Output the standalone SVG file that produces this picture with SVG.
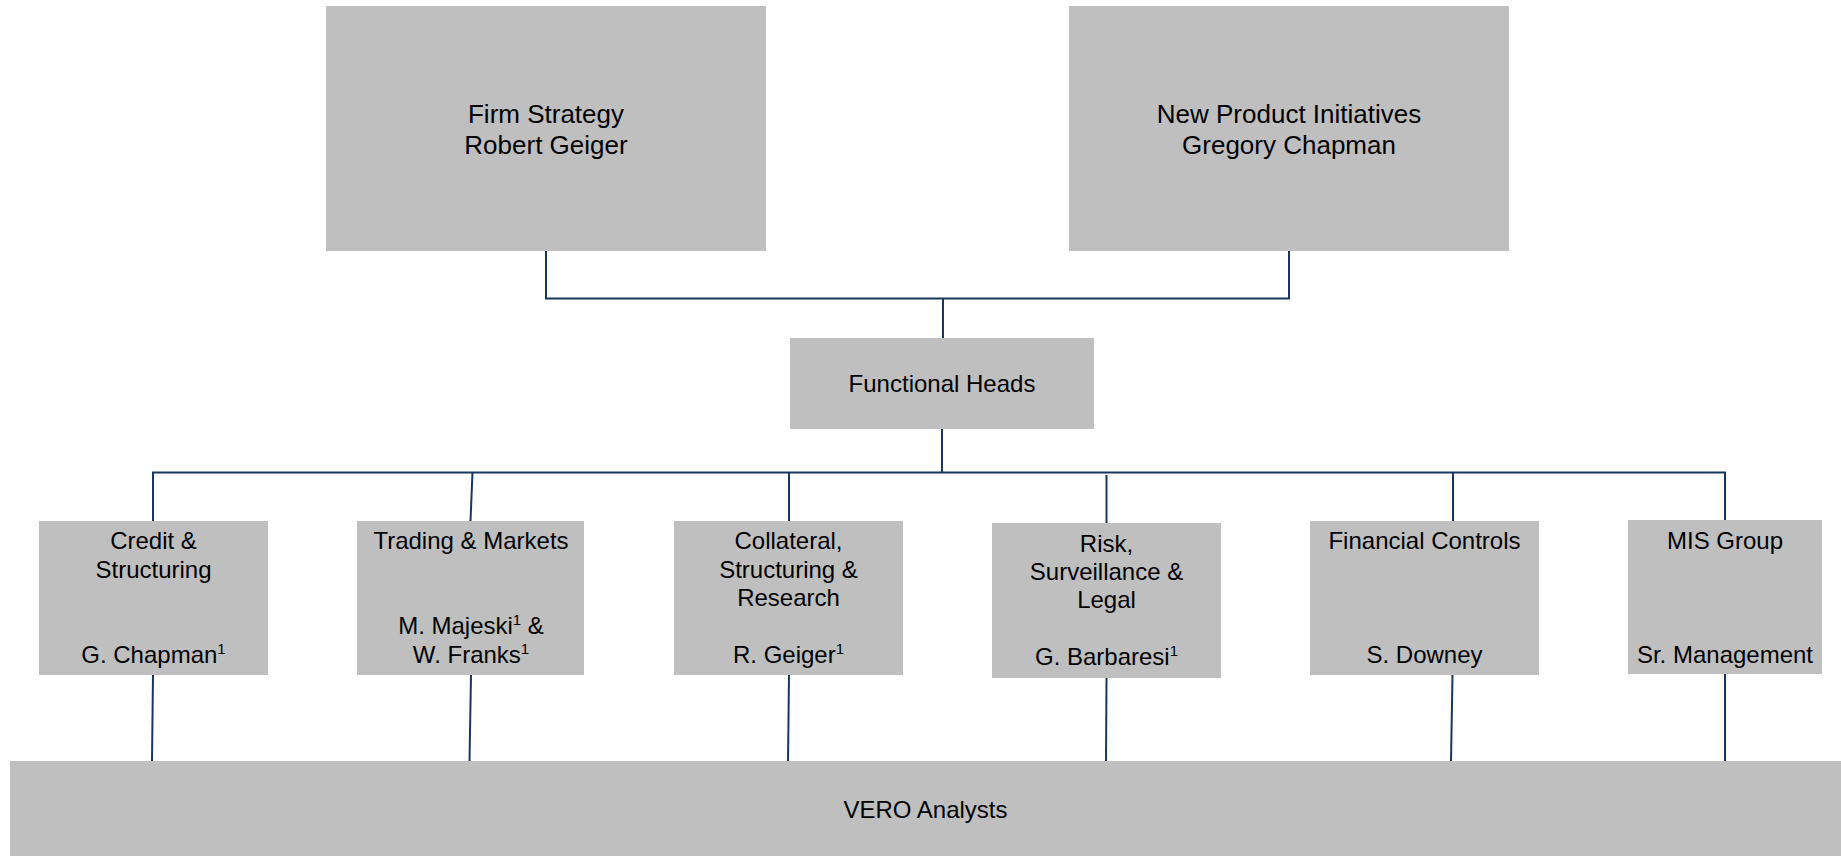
<svg xmlns="http://www.w3.org/2000/svg" width="1841" height="856" viewBox="0 0 1841 856">
  <style>
    .box { fill: #BFBFBF; }
    .lbl { font-family: "Liberation Sans", Arial, sans-serif; font-size: 24px; fill: #000; text-anchor: middle; }
    .big { font-size: 26px; }
    .sup { font-size: 15px; }
    .wire { fill: none; stroke: #17375E; stroke-width: 2; }
  </style>

  <!-- reporting lines -->
  <g id="connectors">
    <polyline class="wire" points="546,251 546,298.5 1289,298.5 1289,251"/>
    <line class="wire" x1="943" y1="298.5" x2="943" y2="338"/>
    <line class="wire" x1="942" y1="429" x2="942" y2="472.5"/>
    <polyline class="wire" points="153,521 153,472.5 1725,472.5 1725,520"/>
    <line class="wire" x1="472.5" y1="472.5" x2="470.5" y2="521"/>
    <line class="wire" x1="789" y1="472.5" x2="789" y2="521"/>
    <line class="wire" x1="1106.5" y1="475" x2="1106.5" y2="523"/>
    <line class="wire" x1="1453" y1="472.5" x2="1453" y2="521"/>
    <line class="wire" x1="153" y1="675" x2="152" y2="761"/>
    <line class="wire" x1="471" y1="675" x2="469.5" y2="761"/>
    <line class="wire" x1="789" y1="675" x2="788" y2="762"/>
    <line class="wire" x1="1106.5" y1="678" x2="1106" y2="764"/>
    <line class="wire" x1="1452.5" y1="675" x2="1451" y2="761"/>
    <line class="wire" x1="1725" y1="674" x2="1725" y2="761"/>
  </g>

  <g id="firm-strategy">
    <rect class="box" x="326" y="6" width="440" height="245"/>
    <text class="lbl big" x="546" y="123">Firm Strategy</text>
    <text class="lbl big" x="546" y="154">Robert Geiger</text>
  </g>

  <g id="new-product-initiatives">
    <rect class="box" x="1069" y="6" width="440" height="245"/>
    <text class="lbl big" x="1289" y="123">New Product Initiatives</text>
    <text class="lbl big" x="1289" y="154">Gregory Chapman</text>
  </g>

  <g id="functional-heads">
    <rect class="box" x="790" y="338" width="304" height="91"/>
    <text class="lbl" x="942" y="392">Functional Heads</text>
  </g>

  <g id="credit-structuring">
    <rect class="box" x="39" y="521" width="229" height="154"/>
    <text class="lbl" x="153.5" y="549">Credit &amp;</text>
    <text class="lbl" x="153.5" y="578">Structuring</text>
    <text class="lbl" x="153.5" y="663">G. Chapman<tspan class="sup" dy="-9">1</tspan></text>
  </g>

  <g id="trading-markets">
    <rect class="box" x="357" y="521" width="227" height="154"/>
    <text class="lbl" x="471" y="549">Trading &amp; Markets</text>
    <text class="lbl" x="471" y="634">M. Majeski<tspan class="sup" dy="-9">1</tspan><tspan dy="9"> &amp;</tspan></text>
    <text class="lbl" x="471" y="663">W. Franks<tspan class="sup" dy="-9">1</tspan></text>
  </g>

  <g id="collateral-structuring-research">
    <rect class="box" x="674" y="521" width="229" height="154"/>
    <text class="lbl" x="788.5" y="549">Collateral,</text>
    <text class="lbl" x="788.5" y="578">Structuring &amp;</text>
    <text class="lbl" x="788.5" y="606">Research</text>
    <text class="lbl" x="788.5" y="663">R. Geiger<tspan class="sup" dy="-9">1</tspan></text>
  </g>

  <g id="risk-surveillance-legal">
    <rect class="box" x="992" y="523" width="229" height="155"/>
    <text class="lbl" x="1106.5" y="552">Risk,</text>
    <text class="lbl" x="1106.5" y="580">Surveillance &amp;</text>
    <text class="lbl" x="1106.5" y="608">Legal</text>
    <text class="lbl" x="1106.5" y="665">G. Barbaresi<tspan class="sup" dy="-9">1</tspan></text>
  </g>

  <g id="financial-controls">
    <rect class="box" x="1310" y="521" width="229" height="154"/>
    <text class="lbl" x="1424.5" y="549">Financial Controls</text>
    <text class="lbl" x="1424.5" y="663">S. Downey</text>
  </g>

  <g id="mis-group">
    <rect class="box" x="1628" y="520" width="194" height="154"/>
    <text class="lbl" x="1725" y="549">MIS Group</text>
    <text class="lbl" x="1725" y="663">Sr. Management</text>
  </g>

  <g id="vero-analysts">
    <rect class="box" x="10" y="761" width="1831" height="95"/>
    <text class="lbl" x="925.5" y="818">VERO Analysts</text>
  </g>
</svg>
